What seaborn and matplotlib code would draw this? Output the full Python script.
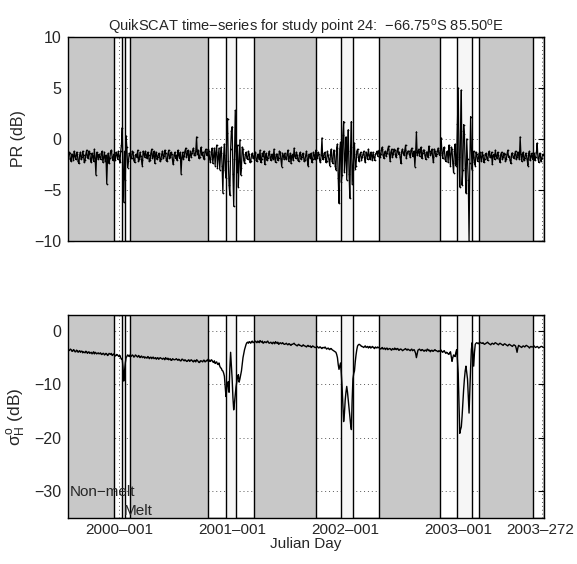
import numpy as np
import pandas as pd
import matplotlib
matplotlib.use("Agg")
import matplotlib.pyplot as plt
import matplotlib.transforms as mtransforms
import seaborn as sns

# ---------------- data ----------------
# day numbers relative to 2000-001; main samples every 5 days, plus
# in-between samples (offset 2.5 days)
start_day = -164
step_days = 5

pr_db = [
    -1.9, -1.4, -2.2, -1.6, -1.2, -2.0, -1.5, -2.4, -1.3, -1.8,
    -1.6, -2.1, -1.1, -1.9, -1.4, -2.3, -1.7, -1.0, -3.5, -1.6,
    -1.5, -2.0, -1.2, -1.8, -2.2, -4.4, -1.4, -1.9, -1.1, -2.1,
    -1.6, -1.3, -2.0, -1.7, -1.2, 1.1, -6.2, -4.0, -0.8, -2.2,
    -1.5, -1.9, -1.3, -2.3, -1.5, -1.1, -2.0, -1.7, -2.6, -1.4,
    -1.2, -1.9, -1.6, -2.1, -1.0, -1.7, -2.4, -1.3, -1.8, -1.5,
    -2.0, -1.2, -1.7, -1.4, -2.2, -1.1, -1.8, -1.5, -2.5, -1.3,
    -1.6, -1.1, -1.9, -3.4, -1.3, -1.7, -0.9, -1.5, -2.1, -1.2,
    -1.4, -0.9, -1.6, 0.2, -1.1, -1.8, -0.8, -1.3, -2.0, -1.0,
    -1.5, -1.2, -2.3, -0.9, -1.7, -2.6, -0.6, -1.9, -3.0, -0.8,
    -5.3, -0.5, -3.8, 2.0, -4.5, -1.0, 1.2, -6.6, 2.8, -3.2,
    -4.7, -0.1, -2.8, -1.0, -2.4, -1.3, -2.0, -1.5, -2.2, -1.4,
    -1.8, -1.3, -2.2, -1.6, -1.1, -2.0, -1.7, -2.5, -1.4, -1.9,
    -1.2, -2.1, -1.6, -1.0, -2.3, -1.5, -1.9, -1.3, -2.7, -1.6,
    -1.4, -2.0, -1.1, -1.8, -2.4, -1.5, -0.9, -1.9, -1.6, -2.2,
    -1.3, -1.8, -1.5, -2.1, -1.2, -2.6, -1.7, -1.4, -2.0, -1.6,
    -1.1, -1.9, -1.5, -2.3, 0.1, -1.8, -1.3, -2.2, -1.6, -2.6,
    -1.0, -2.4, -1.2, -3.0, -0.5, -6.3, -0.3, -3.5, 1.7, -2.0,
    -4.0, 0.9, -5.8, 1.7, -3.0, -0.4, -2.6, -1.0, -2.2, -1.3,
    -1.8, -1.2, -2.3, -1.5, -1.0, -2.0, -1.6, -1.3, -2.1, -1.4,
    -1.7, -1.1, -1.5, -0.8, -1.9, -1.2, -1.4, -0.7, -2.2, -1.0,
    -1.5, -1.1, -1.8, -0.9, -1.3, -2.4, -1.0, -1.6, -0.6, -1.4,
    -1.2, -1.8, -0.9, -1.5, -2.7, 0.7, -1.3, -1.7, -0.8, -1.4,
    -1.1, -2.0, -1.3, -0.7, -1.6, -1.0, -2.3, -1.2, -1.5, -0.9,
    -1.6, 0.1, -1.9, -0.8, -2.2, -1.2, -0.6, -2.6, -1.0, -3.3,
    -0.5, -2.0, 5.0, -4.7, 4.8, -3.0, 0.5, -5.3, -2.0, -10.0,
    2.2, -3.0, -1.2, -2.6, -1.5, -1.9, -1.3, -2.2, -1.6, -2.0,
    -1.4, -2.1, -1.2, -1.8, -2.5, -1.5, -1.1, -1.9, -1.6, -2.3,
    -1.3, -1.8, -1.5, -2.0, -1.1, -1.7, -2.4, -1.4, -1.9, -1.2,
    -1.8, -1.5, 0.2, -2.2, -1.3, -1.9, -1.6, -2.6, -1.2, -1.7,
    -2.0, -1.4, -1.8, -0.4, -2.3, -1.5, -1.9, -1.6,
]

pr_db_mid = [
    -1.3, -2.0, -1.5, -2.1, -1.7, -1.3, -2.2, -1.6, -2.0, -1.2,
    -2.3, -1.5, -1.8, -1.2, -2.0, -1.4, -2.2, -1.9, -1.3, -2.0,
    -1.8, -1.4, -2.3, -1.3, -1.6, -1.9, -2.4, -1.2, -1.8, -1.5,
    -2.1, -1.5, -1.2, -2.3, -0.6, -3.0, -1.2, 0.3, -2.8, -1.4,
    -1.9, -1.2, -2.1, -1.6, -1.8, -2.2, -1.3, -2.1, -1.2, -1.8,
    -1.6, -1.3, -2.2, -1.4, -1.9, -1.2, -1.6, -2.0, -1.4, -2.2,
    -1.5, -1.9, -1.1, -2.1, -1.5, -1.9, -1.3, -2.1, -1.6, -1.9,
    -2.1, -1.6, -1.3, -1.8, -2.0, -1.2, -1.8, -1.1, -1.6, -1.8,
    -1.1, -1.6, -1.2, -1.5, -1.9, -1.2, -1.6, -1.9, -1.2, -1.6,
    -1.0, -2.0, -1.3, -2.4, -0.9, -1.3, -2.8, -0.9, -1.4, -2.6,
    -1.6, -3.0, 0.6, -2.2, -5.5, 0.8, -3.4, -2.0, -1.2, -0.6,
    -2.2, -3.5, -0.8, -2.1, -1.5, -1.9, -1.2, -2.3, -1.6, -1.9,
    -1.4, -2.1, -1.5, -2.0, -2.3, -1.4, -1.2, -1.8, -2.1, -1.5,
    -1.8, -1.5, -2.0, -1.9, -1.5, -2.1, -1.2, -2.0, -1.4, -2.0,
    -1.9, -1.5, -2.2, -1.4, -1.6, -2.1, -1.7, -1.3, -2.1, -1.5,
    -2.0, -1.4, -2.2, -1.6, -2.0, -1.5, -1.9, -2.3, -1.3, -2.0,
    -1.6, -1.3, -2.1, -1.6, -2.0, -1.4, -2.3, -1.2, -2.0, -1.5,
    -2.2, -1.1, -2.6, -0.9, -3.8, -1.0, -4.2, 0.4, -3.2, 0.2,
    -1.2, -3.4, -0.8, -4.4, -1.5, -2.9, -1.2, -1.8, -1.5, -2.1,
    -1.5, -1.9, -1.3, -2.0, -1.6, -1.3, -2.1, -1.8, -1.5, -1.2,
    -1.3, -1.8, -1.0, -1.6, -1.3, -1.7, -1.0, -1.5, -1.3, -1.8,
    -1.0, -1.6, -1.2, -1.5, -1.8, -1.2, -1.4, -1.1, -1.9, -1.2,
    -1.5, -1.1, -1.7, -1.2, -1.3, -1.6, -1.0, -1.2, -1.9, -1.1,
    -1.6, -1.3, -1.8, -1.2, -1.4, -1.8, -1.0, -1.7, -1.2, -1.4,
    -1.1, -1.4, -0.9, -2.0, -1.3, -2.3, -1.5, -0.8, -2.4, -1.2,
    -2.6, 1.5, -1.8, 0.8, -4.5, 1.4, -2.8, 0.0, -4.0, -2.4,
    -1.0, -1.8, -2.3, -1.3, -2.2, -1.4, -1.8, -1.3, -2.3, -1.5,
    -1.9, -1.5, -1.8, -1.3, -1.6, -2.0, -1.7, -1.3, -2.0, -1.5,
    -2.0, -1.4, -2.2, -1.5, -1.8, -2.1, -1.4, -1.8, -1.5, -2.0,
    -1.3, -2.0, -1.5, -1.6, -2.1, -1.4, -2.0, -1.4, -2.1, -1.4,
    -1.6, -2.1, -1.3, -1.9, -1.4, -2.2, -1.5,
]

sigma_h_db = [
    -3.4, -3.6, -3.5, -3.8, -3.6, -3.9, -3.7, -3.8, -4.0, -3.8,
    -3.9, -4.1, -3.9, -4.0, -4.2, -4.0, -4.1, -4.3, -4.1, -4.2,
    -4.3, -4.1, -4.4, -4.2, -4.4, -4.3, -4.5, -4.3, -4.2, -4.5,
    -4.4, -4.6, -4.5, -4.8, -5.0, -5.2, -9.4, -6.0, -4.8, -4.6,
    -4.5, -4.7, -4.6, -4.8, -4.6, -4.9, -4.7, -4.8, -5.0, -4.8,
    -4.9, -5.1, -4.9, -5.0, -5.2, -4.9, -5.1, -5.3, -5.0, -5.2,
    -5.1, -5.3, -5.2, -5.0, -5.3, -5.4, -5.2, -5.5, -5.3, -5.4,
    -5.2, -5.5, -5.4, -5.6, -5.3, -5.6, -5.5, -5.7, -5.4, -5.6,
    -5.5, -5.8, -5.6, -5.4, -5.7, -5.9, -5.6, -5.8, -5.5, -5.7,
    -5.6, -5.4, -5.7, -5.5, -5.9, -6.1, -5.8, -6.3, -6.6, -7.0,
    -7.5, -8.5, -12.3, -10.0, -11.5, -4.0, -9.0, -14.8, -12.0, -9.5,
    -8.2, -9.0, -7.5, -5.0, -3.5, -2.5, -2.1, -2.0, -2.3, -1.9,
    -2.1, -1.9, -2.2, -2.0, -1.8, -2.1, -2.3, -2.0, -2.2, -1.9,
    -2.3, -2.1, -2.4, -2.2, -2.0, -2.3, -2.5, -2.2, -2.4, -2.3,
    -2.5, -2.3, -2.6, -2.4, -2.7, -2.5, -2.3, -2.6, -2.8, -2.5,
    -2.7, -2.9, -2.6, -2.8, -3.0, -2.7, -2.9, -3.1, -2.8, -3.0,
    -3.1, -2.9, -3.2, -3.0, -3.3, -3.1, -3.0, -3.4, -3.2, -3.5,
    -3.3, -3.6, -3.8, -4.0, -5.0, -7.2, -6.0, -10.5, -17.0, -13.0,
    -10.4, -13.0, -16.0, -18.5, -9.0, -7.5, -4.5, -2.8, -2.5, -2.7,
    -2.9, -3.1, -2.8, -3.0, -3.2, -2.9, -3.1, -3.0, -3.3, -3.1,
    -3.0, -3.2, -3.4, -3.1, -3.3, -3.5, -3.2, -3.4, -3.3, -3.6,
    -3.4, -3.2, -3.5, -3.3, -3.6, -3.4, -3.7, -3.5, -3.3, -3.6,
    -3.5, -3.7, -3.4, -3.6, -3.8, -5.0, -3.6, -3.4, -3.7, -3.5,
    -3.8, -3.6, -3.4, -3.7, -3.9, -3.6, -3.8, -3.5, -3.7, -3.9,
    -3.8, -3.6, -4.0, -3.7, -4.2, -4.1, -4.4, -3.9, -5.7, -4.5,
    -4.8, -3.5, -8.0, -19.2, -18.0, -13.5, -9.0, -6.6, -9.0, -15.4,
    -7.0, -2.2, -6.6, -2.5, -2.2, -2.4, -2.1, -2.3, -2.2, -2.5,
    -2.3, -2.1, -2.4, -2.6, -2.3, -2.5, -2.2, -2.4, -2.6, -2.3,
    -2.5, -2.7, -2.4, -2.6, -2.8, -2.5, -2.7, -2.9, -2.6, -2.8,
    -4.0, -2.7, -2.9, -3.1, -2.8, -3.0, -2.7, -2.9, -3.2, -2.9,
    -3.0, -2.8, -3.1, -2.9, -3.2, -3.0, -2.9, -3.1,
]

sigma_h_db_mid = [
    -3.7, -3.4, -3.8, -3.5, -3.9, -3.6, -4.0, -3.7, -3.8, -4.1,
    -4.0, -3.8, -4.2, -3.9, -4.1, -4.3, -3.9, -4.0, -4.3, -4.1,
    -4.2, -4.4, -4.2, -4.5, -4.2, -4.6, -4.2, -4.4, -4.6, -4.3,
    -4.7, -4.4, -4.7, -4.6, -5.3, -6.8, -7.5, -5.0, -4.5, -4.8,
    -4.8, -4.5, -4.9, -4.5, -4.8, -4.6, -5.0, -4.7, -4.9, -5.1,
    -5.0, -4.8, -5.2, -4.9, -5.0, -5.2, -5.0, -5.1, -5.3, -5.0,
    -5.2, -5.1, -5.4, -5.2, -5.1, -5.3, -5.5, -5.2, -5.4, -5.3,
    -5.4, -5.3, -5.6, -5.3, -5.5, -5.4, -5.7, -5.5, -5.7, -5.4,
    -5.7, -5.5, -5.8, -5.5, -5.9, -5.6, -5.7, -5.5, -5.8, -5.5,
    -5.3, -5.7, -5.4, -5.8, -5.6, -5.9, -6.2, -6.0, -6.9, -7.4,
    -7.9, -10.5, -11.0, -9.5, -7.0, -6.5, -12.5, -13.5, -10.5, -8.6,
    -9.6, -8.3, -6.2, -4.2, -3.0, -2.2, -2.3, -2.1, -2.0, -2.2,
    -2.0, -2.1, -1.9, -2.2, -2.0, -1.9, -2.2, -2.1, -2.0, -2.2,
    -2.2, -2.3, -2.1, -2.4, -2.2, -2.1, -2.4, -2.3, -2.2, -2.5,
    -2.4, -2.5, -2.4, -2.6, -2.5, -2.4, -2.5, -2.7, -2.6, -2.7,
    -2.8, -2.7, -2.8, -2.9, -2.8, -2.9, -2.8, -3.0, -2.9, -3.1,
    -3.0, -3.1, -3.0, -3.2, -3.1, -3.2, -3.2, -3.3, -3.4, -3.3,
    -3.5, -3.7, -3.9, -4.4, -6.3, -6.6, -8.0, -14.0, -15.5, -11.5,
    -11.5, -14.5, -17.5, -13.0, -8.0, -5.8, -3.5, -2.6, -2.6, -2.9,
    -3.0, -2.9, -3.1, -2.9, -3.0, -3.2, -2.9, -3.2, -3.0, -3.2,
    -3.1, -3.3, -3.2, -3.4, -3.2, -3.3, -3.5, -3.3, -3.5, -3.3,
    -3.5, -3.4, -3.3, -3.6, -3.4, -3.5, -3.6, -3.4, -3.5, -3.4,
    -3.6, -3.5, -3.7, -3.5, -4.2, -4.3, -3.5, -3.6, -3.5, -3.7,
    -3.6, -3.8, -3.5, -3.6, -3.7, -3.8, -3.6, -3.7, -3.8, -3.7,
    -3.7, -3.9, -3.8, -4.0, -4.0, -4.3, -4.1, -4.8, -5.0, -4.6,
    -4.0, -5.5, -14.0, -18.5, -16.0, -11.0, -7.5, -7.8, -12.0, -11.0,
    -3.5, -4.4, -4.0, -2.3, -2.3, -2.2, -2.2, -2.3, -2.4, -2.4,
    -2.2, -2.3, -2.5, -2.4, -2.4, -2.3, -2.3, -2.5, -2.4, -2.4,
    -2.6, -2.5, -2.5, -2.7, -2.6, -2.6, -2.8, -2.7, -2.7, -3.3,
    -3.2, -2.8, -3.0, -2.9, -2.9, -2.8, -2.8, -3.0, -3.0, -3.0,
    -2.9, -3.0, -3.0, -3.0, -3.1, -2.9, -3.0,
]

# period boundaries (days since 2000-001)
nonmelt_start = [-164, 37, 438, 839, 1164]
nonmelt_end = [-14.5, 287, 638, 1038, 1339]
melt_start = [-14.5, 21, 287, 378, 638, 757, 1038, 1139, 1339]
melt_end = [11, 37, 347, 438, 719, 839, 1093, 1164, 1373]
gap_start = [11, 347, 719, 1093]
gap_end = [21, 378, 757, 1139]

tick_days = [0, 366, 731, 1096, 1367]
tick_labels = ["2000\u2013001", "2001\u2013001", "2002\u2013001", "2003\u2013001", "2003\u2013272"]
x_limits = (-164, 1373)

days_main = start_day + step_days * np.arange(len(pr_db))
days_mid = start_day + step_days / 2 + step_days * np.arange(len(pr_db_mid))
df = pd.DataFrame({
    "day": np.concatenate([days_main, days_mid]),
    "pr": np.concatenate([pr_db, pr_db_mid]),
    "sigma": np.concatenate([sigma_h_db, sigma_h_db_mid]),
}).sort_values("day").reset_index(drop=True)

# ---------------- style ----------------
sns.set_theme(style="white")
FONT = ["Liberation Sans Narrow", "Liberation Sans", "DejaVu Sans"]
plt.rcParams["font.family"] = FONT
plt.rcParams["mathtext.fontset"] = "custom"
plt.rcParams["mathtext.rm"] = "Liberation Sans"
plt.rcParams["mathtext.it"] = "Liberation Sans"
plt.rcParams["mathtext.bf"] = "Liberation Sans"

fig = plt.figure(figsize=(5.77, 5.64), dpi=100)
ax1 = fig.add_axes([0.1179, 0.5727, 0.8249, 0.3617])
ax2 = fig.add_axes([0.1179, 0.0824, 0.8249, 0.3591])

GRAY = "#c8c8c8"
LIGHT = "#f6f6f6"
FS = 11


def decorate(ax, ylim, yticks):
    ax.set_facecolor("white")
    ax.set_axisbelow(True)
    for a, b in zip(nonmelt_start, nonmelt_end):
        ax.axvspan(a, b, facecolor=GRAY, edgecolor="none", zorder=1)
    for a, b in zip(gap_start, gap_end):
        ax.axvspan(a, b, facecolor=LIGHT, edgecolor="none", zorder=1)
    for a, b in zip(melt_start, melt_end):
        ax.axvspan(a, b, facecolor="none", edgecolor="black", linewidth=1.0, zorder=1.5)
    ax.set_xlim(*x_limits)
    ax.set_ylim(*ylim)
    ax.set_yticks(yticks)
    ax.set_xticks(tick_days)
    ax.grid(True, which="major", color="0.35", linestyle=(0, (1, 3)), linewidth=0.7)
    ax.tick_params(axis="y", direction="in", length=4, width=0.8, left=True, right=True,
                   labelsize=11.5, pad=5, color="black")
    ax.tick_params(axis="x", length=0, labelsize=FS, pad=4)
    for s in ax.spines.values():
        s.set_visible(True)
        s.set_color("black")
        s.set_linewidth(1.0)
        s.set_zorder(4)


decorate(ax1, (-10, 10), [-10, -5, 0, 5, 10])
decorate(ax2, (-35, 3), [-30, -20, -10, 0])

sns.lineplot(data=df, x="day", y="pr", ax=ax1, color="black", linewidth=0.9,
             marker=".", markersize=2.5, markeredgewidth=0, estimator=None,
             sort=False, zorder=3)
sns.lineplot(data=df, x="day", y="sigma", ax=ax2, color="black", linewidth=1.0,
             estimator=None, sort=False, zorder=3)

ax1.set_xticklabels([])
ax1.set_xlabel("")
ax1.set_ylabel("PR (dB)", fontsize=11.5, labelpad=6)
ax1.set_title("QuikSCAT time\u2212series for study point 24:  \u221266.75$^{o}$S 85.50$^{o}$E",
              fontsize=10.5, pad=4)

ax2.set_xticklabels(tick_labels)
# keep the last label inside the figure edge
last = ax2.get_xticklabels()[-1]
last.set_transform(last.get_transform() + mtransforms.ScaledTranslation(-2 / 100, 0, fig.dpi_scale_trans))
ax2.set_xlabel("Julian Day", fontsize=11, labelpad=0)
ax2.set_ylabel(r"$\sigma^{o}_{H}$ (dB)", fontsize=12.5, labelpad=4)
ax2.text(-158, -30.2, "Non\u2212melt", fontsize=FS, ha="left", va="center", zorder=5)
ax2.text(14.5, -33.8, "Melt", fontsize=FS, ha="left", va="center", zorder=5)

fig.savefig("out.png", dpi=100)
